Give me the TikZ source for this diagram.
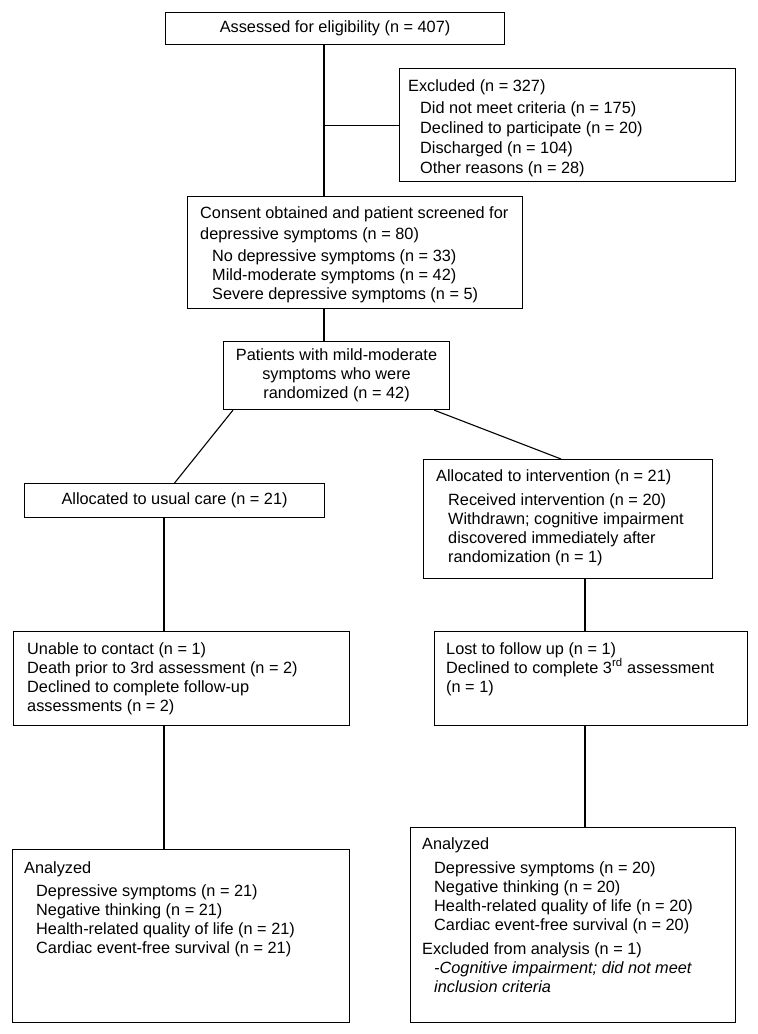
\documentclass[tikz,border=0pt]{standalone}
\usepackage{fontspec}
\setmainfont{Liberation Sans}
\usetikzlibrary{positioning,calc}

\tikzset{
  box/.style={draw, line width=1.1pt, anchor=north west, inner sep=0pt},
  boxtext/.style={anchor=north west, align=left, inner sep=0pt},
  flow/.style={line width=1.1pt},
}
\newcommand{\ind}{\hspace*{12pt}}

\begin{document}
\begin{tikzpicture}[x=1pt, y=-1pt, font=\fontsize{16.3}{19}\selectfont]
\useasboundingbox (0,0) rectangle (758,1034);
% columns of the connectors
\coordinate (spine) at (324,0);
\coordinate (lcol) at (164,0);
\coordinate (rcol) at (585,0);

% boxes
\node[box, minimum width=339pt, minimum height=32pt, align=center] (assess) at (165,12) {Assessed for eligibility (n = 407)};
\node[box, minimum width=336pt, minimum height=113pt] (excl) at (399,68) {};
\node[box, minimum width=335pt, minimum height=112pt] (consent) at (187,196) {};
\node[box, minimum width=226pt, minimum height=68pt, align=center] (pat) at (223,341) {Patients with mild-moderate\\symptoms who were\\randomized (n = 42)};
\node[box, minimum width=300pt, minimum height=34pt, align=center] (usual) at (24,483) {Allocated to usual care (n = 21)};
\node[box, minimum width=289pt, minimum height=119pt] (interv) at (423,459) {};
\node[box, minimum width=336pt, minimum height=94pt] (followl) at (13,631) {};
\node[box, minimum width=313pt, minimum height=94pt] (followr) at (434,631) {};
\node[box, minimum width=337pt, minimum height=173pt] (anall) at (12,849) {};
\node[box, minimum width=325pt, minimum height=195pt] (analr) at (410,827) {};

% texts
\node[boxtext] (excltext) at ($(excl.north west)+(9,11)$) {Excluded (n = 327)\\[3pt]
  \ind Did not meet criteria (n = 175)\\[1pt] \ind Declined to participate (n = 20)\\[1pt]
  \ind Discharged (n = 104)\\[1pt] \ind Other reasons (n = 28)};
\node[boxtext] (consenttext) at ($(consent.north west)+(13,10)$) {Consent obtained and patient screened for\\[2pt]
  depressive symptoms (n = 80)\\[3pt]
  \ind No depressive symptoms (n = 33)\\ \ind Mild-moderate symptoms (n = 42)\\
  \ind Severe depressive symptoms (n = 5)};
\node[boxtext] (intervtext) at ($(interv.north west)+(13,10)$) {Allocated to intervention (n = 21)\\[5pt]
  \ind Received intervention (n = 20)\\ \ind Withdrawn; cognitive impairment\\
  \ind discovered immediately after\\ \ind randomization (n = 1)};
\node[boxtext] (followltext) at ($(followl.north west)+(14,11)$) {Unable to contact (n = 1)\\
  Death prior to 3rd assessment (n = 2)\\ Declined to complete follow-up\\ assessments (n = 2)};
\node[boxtext] (followrtext) at ($(followr.north west)+(12,11)$) {Lost to follow up (n = 1)\\
  Declined to complete 3\textsuperscript{rd} assessment\\ (n = 1)};
\node[boxtext] (analltext) at ($(anall.north west)+(12,12)$) {Analyzed\\[4pt]
  \ind Depressive symptoms (n = 21)\\ \ind Negative thinking (n = 21)\\
  \ind Health-related quality of life (n = 21)\\ \ind Cardiac event-free survival (n = 21)};
\node[boxtext] (analrtext) at ($(analr.north west)+(12,10)$) {Analyzed\\[5pt]
  \ind Depressive symptoms (n = 20)\\ \ind Negative thinking (n = 20)\\
  \ind Health-related quality of life (n = 20)\\ \ind Cardiac event-free survival (n = 20)\\[5pt]
  Excluded from analysis (n = 1)\\ \ind\textit{-Cognitive impairment; did not meet}\\
  \ind\textit{inclusion criteria}};

% connectors
\draw[flow] (assess.south -| spine) -- (consent.north -| spine);
\draw[flow] (spine |- excl.west) -- (excl.west);
\draw[flow] (consent.south -| spine) -- (pat.north -| spine);
\draw[flow] ($(pat.south west)+(10,0)$) -- (usual.north);
\draw[flow] ($(pat.south east)+(-16,0)$) -- ($(interv.north)+(-7,0)$);
\draw[flow] (usual.south -| lcol) -- (followl.north -| lcol);
\draw[flow] (followl.south -| lcol) -- (anall.north -| lcol);
\draw[flow] (interv.south -| rcol) -- (followr.north -| rcol);
\draw[flow] (followr.south -| rcol) -- (analr.north -| rcol);
\end{tikzpicture}
\end{document}
